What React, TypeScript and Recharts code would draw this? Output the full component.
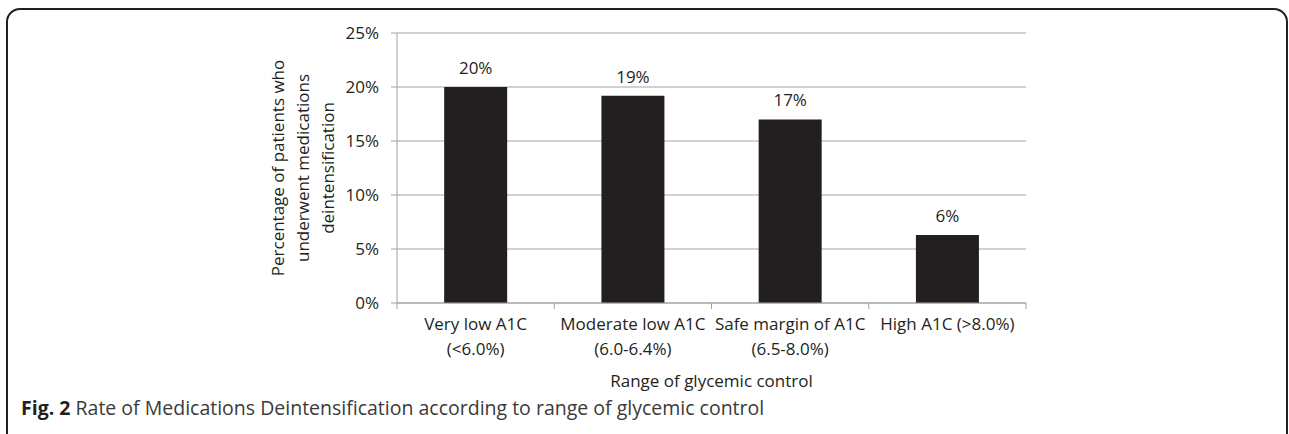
import { BarChart, Bar, XAxis, YAxis, CartesianGrid, LabelList, Label } from 'recharts'

const CATEGORIES = ['Very low A1C', 'Moderate low A1C', 'Safe margin of A1C', 'High A1C (>8.0%)']
const SUBLABELS = ['(<6.0%)', '(6.0-6.4%)', '(6.5-8.0%)', '']
const RATES = [20.0, 19.2, 17.0, 6.3]
const Y_TICKS = [0, 5, 10, 15, 20, 25]

const Y_LABEL_LINES = ['Percentage of patients who', 'underwent medications', 'deintensification']
const X_LABEL = 'Range of glycemic control'

const data = CATEGORIES.map((name, i) => ({ name, sub: SUBLABELS[i], value: RATES[i] }))

const FONT = '"Open Sans", sans-serif'
const INK = '#231f20'
const GRID = '#a3a3a3'

function CategoryTick({ x, y, payload, index }: any) {
  const half = payload?.offset || 78.6
  const row = data[index]
  return (
    <g>
      <line x1={x - half} y1={y - 8} x2={x - half} y2={y - 2} stroke={GRID} />
      {index === data.length - 1 && (
        <line x1={x + half} y1={y - 8} x2={x + half} y2={y - 2} stroke={GRID} />
      )}
      <text x={x} y={y} textAnchor="middle" fontFamily={FONT} fontSize={17} fill={INK}>
        <tspan x={x} dy={19}>{row.name}</tspan>
        {row.sub && <tspan x={x} dy={25}>{row.sub}</tspan>}
      </text>
    </g>
  )
}

function YTitle({ viewBox }: any) {
  const cx = viewBox.x - 28
  const cy = viewBox.y + viewBox.height / 2
  return (
    <text
      x={cx}
      y={cy}
      transform={`rotate(-90, ${cx}, ${cy})`}
      textAnchor="middle"
      fontFamily={FONT}
      fontSize={17}
      fill={INK}
    >
      {Y_LABEL_LINES.map((line, i) => (
        <tspan key={i} x={cx} dy={i === 0 ? -25 : 25}>{line}</tspan>
      ))}
    </text>
  )
}

function XTitle({ viewBox }: any) {
  return (
    <text
      x={viewBox.x + viewBox.width / 2}
      y={viewBox.y + 84}
      textAnchor="middle"
      fontFamily={FONT}
      fontSize={17}
      fill={INK}
    >
      {X_LABEL}
    </text>
  )
}

export default function App() {
  return (
    <div style={{ position: 'absolute', left: 0, top: 0, width: 1289, height: 434, overflow: 'hidden', background: '#fff' }}>
      <div
        style={{
          position: 'absolute',
          left: 6,
          top: 8,
          width: 1278,
          height: 470,
          border: `2px solid ${INK}`,
          borderRadius: 14,
        }}
      />
      <div style={{ position: 'absolute', left: 0, top: 0 }}>
        <BarChart
          width={1289}
          height={434}
          data={data}
          margin={{ top: 33, right: 263, left: 337, bottom: 41 }}
          barCategoryGap="30%"
        >
          <CartesianGrid vertical={false} stroke={GRID} strokeWidth={1.2} />
          <XAxis
            dataKey="name"
            height={90}
            stroke={GRID}
            tickLine={false}
            tick={<CategoryTick />}
            interval={0}
          >
            <Label content={<XTitle />} />
          </XAxis>
          <YAxis
            width={60}
            domain={[0, 25]}
            ticks={Y_TICKS}
            stroke={GRID}
            tickSize={6}
            tickMargin={12}
            tickFormatter={(v: number) => `${v}%`}
            tick={{ fontFamily: FONT, fontSize: 17, fill: INK }}
          >
            <Label content={<YTitle />} />
          </YAxis>
          <Bar dataKey="value" fill={INK} isAnimationActive={false}>
            <LabelList
              dataKey="value"
              position="top"
              offset={13}
              formatter={(v: any) => `${Math.round(Number(v))}%`}
              style={{ fontFamily: FONT, fontSize: 17, fill: INK }}
            />
          </Bar>
        </BarChart>
      </div>
      <div
        style={{
          position: 'absolute',
          left: 21,
          top: 395,
          fontFamily: FONT,
          fontSize: 19.5,
          lineHeight: '26px',
          color: '#3a3a3a',
          whiteSpace: 'nowrap',
        }}
      >
        <b style={{ color: INK }}>Fig. 2</b> Rate of Medications Deintensification according to range of glycemic control
      </div>
    </div>
  )
}
